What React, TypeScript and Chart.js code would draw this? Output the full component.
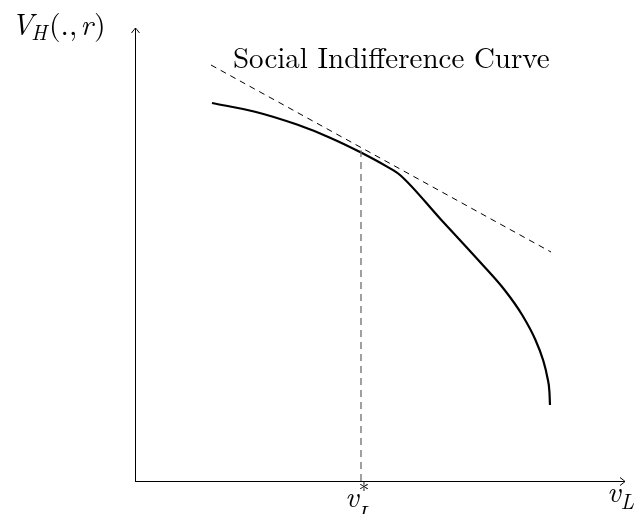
import React, { useEffect, useRef } from "react";
import { Chart, registerables } from "chart.js";

Chart.register(...registerables);

// Frontier curve V_H vs v_L (arbitrary units 0..10)
const curveX = [1.571, 2.449, 3.306, 3.98, 4.592, 5.143, 5.408, 6.224, 7.041, 7.543, 7.902, 8.173, 8.328, 8.418, 8.458, 8.469];
const curveY = [8.344, 8.152, 7.868, 7.579, 7.263, 6.94, 6.755, 5.795, 4.834, 4.216, 3.664, 3.113, 2.671, 2.274, 1.965, 1.678];
// Social indifference curve (tangent line)
const tangentX = [1.551, 8.49];
const tangentY = [9.183, 5.055];
// Optimum v_L*
const optimumX = 4.612;
const optimumY = [0, 7.3];

const titleText = "Social Indifference Curve";

const SERIF = "'Latin Modern Roman','CMU Serif','DejaVu Serif','Liberation Serif',serif";

function drawArrowHead(ctx: CanvasRenderingContext2D, x: number, y: number, dir: "up" | "right") {
  ctx.save();
  ctx.translate(x, y);
  if (dir === "up") ctx.rotate(-Math.PI / 2);
  ctx.beginPath();
  ctx.moveTo(-5, -4);
  ctx.quadraticCurveTo(-1, -1, 0, 0);
  ctx.quadraticCurveTo(-1, 1, -5, 4);
  ctx.lineWidth = 1;
  ctx.strokeStyle = "#000";
  ctx.stroke();
  ctx.restore();
}

const decorPlugin = {
  id: "decor",
  beforeDatasetsDraw(chart: any) {
    const { ctx, chartArea } = chart;
    const { left, right, top, bottom } = chartArea;
    ctx.save();
    ctx.strokeStyle = "#000";
    ctx.lineWidth = 1;
    ctx.beginPath();
    ctx.moveTo(left + 0.5, bottom + 0.5);
    ctx.lineTo(left + 0.5, top);
    ctx.moveTo(left, bottom + 0.5);
    ctx.lineTo(right, bottom + 0.5);
    ctx.stroke();
    drawArrowHead(ctx, left + 0.5, top, "up");
    drawArrowHead(ctx, right, bottom + 0.5, "right");
    ctx.restore();
  },
  afterDatasetsDraw(chart: any) {
    const { ctx, chartArea, scales } = chart;
    const { bottom } = chartArea;
    ctx.save();
    ctx.fillStyle = "#000";
    ctx.textBaseline = "alphabetic";
    // Title
    ctx.font = `29px ${SERIF}`;
    ctx.textAlign = "left";
    ctx.fillText(titleText, 233, 68);

    // Y label V_H(.,r)
    let x = 11;
    const by = 35;
    const seq: [string, string, number, number][] = [
      ["V", "italic 30px", 0, -2],
      ["H", "italic 21px", 5, 2],
      ["(.,", "30px", 0, 3],
      ["r", "italic 30px", 0, 1],
      [")", "30px", 0, 0],
    ];
    for (const [t, f, dy, gap] of seq) {
      ctx.font = `${f} ${SERIF}`;
      ctx.fillText(t, x, by + dy);
      x += ctx.measureText(t).width + gap;
    }

    // v_L at right
    ctx.font = `italic 30px ${SERIF}`;
    ctx.fillText("v", 607, 502);
    let w = ctx.measureText("v").width;
    ctx.font = `italic 21px ${SERIF}`;
    ctx.fillText("L", 607 + w, 509);

    // v_L^*
    const px = scales.x.getPixelForValue(optimumX);
    ctx.font = `italic 30px ${SERIF}`;
    const vx = px - 16;
    ctx.fillText("v", vx, bottom + 26);
    w = ctx.measureText("v").width;
    ctx.font = `21px ${SERIF}`;
    ctx.fillText("*", vx + w, bottom + 17);
    ctx.font = `italic 21px ${SERIF}`;
    ctx.fillText("L", vx + w - 1, bottom + 40);
    ctx.restore();
  },
};

export default function App() {
  const ref = useRef<HTMLCanvasElement | null>(null);
  useEffect(() => {
    if (!ref.current) return;
    const chart = new Chart(ref.current, {
      type: "line",
      data: {
        datasets: [
          {
            data: optimumY.map((y) => ({ x: optimumX, y })),
            borderColor: "#6e6e6e",
            borderWidth: 1.3,
            borderDash: [7, 5],
            pointRadius: 0,
            fill: false,
          },
          {
            data: tangentX.map((x, i) => ({ x, y: tangentY[i] })),
            borderColor: "#000",
            borderWidth: 1,
            borderDash: [6, 5],
            pointRadius: 0,
            fill: false,
          },
          {
            data: curveX.map((x, i) => ({ x, y: curveY[i] })),
            borderColor: "#000",
            borderWidth: 2.2,
            pointRadius: 0,
            cubicInterpolationMode: "monotone",
            fill: false,
          },
        ],
      },
      options: {
        responsive: false,
        animation: false,
        layout: { padding: { left: 135, right: 15, top: 28, bottom: 33 } },
        plugins: { legend: { display: false }, tooltip: { enabled: false } },
        scales: {
          x: { type: "linear", min: 0, max: 10, display: false },
          y: { type: "linear", min: 0, max: 10, display: false },
        },
      },
      plugins: [decorPlugin],
    } as any);
    return () => chart.destroy();
  }, []);
  return (
    <div style={{ position: "fixed", left: 0, top: 0, width: 640, height: 514, background: "#fff" }}>
      <canvas ref={ref} width={640} height={514} />
    </div>
  );
}
